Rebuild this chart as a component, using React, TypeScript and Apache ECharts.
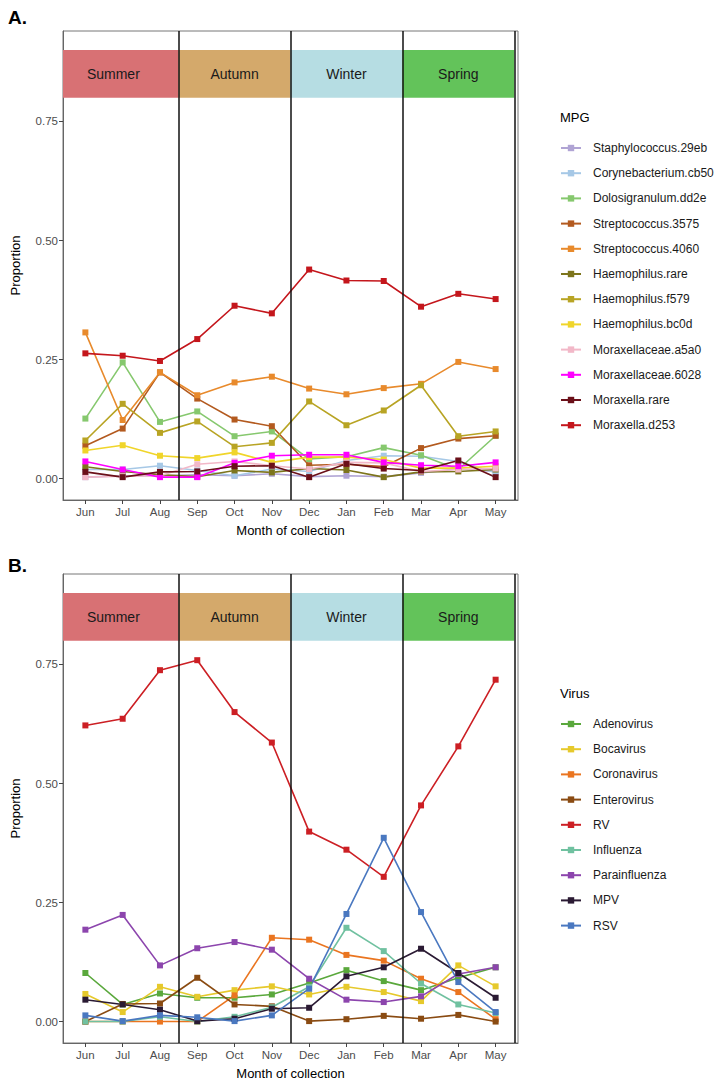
import React, { useEffect, useRef } from "react";
import * as echarts from "echarts";

const months = ["Jun", "Jul", "Aug", "Sep", "Oct", "Nov", "Dec", "Jan", "Feb", "Mar", "Apr", "May"];
const yTicks = [0, 0.25, 0.5, 0.75];
const seasons = ["Summer", "Autumn", "Winter", "Spring"];
const seasonColors = ["#d87174", "#d4a96b", "#b6dde3", "#63c35a"];
const seasonStart = [-0.6, 2.5, 5.5, 8.5];
const seasonEnd = [2.5, 5.5, 8.5, 11.5];
const seasonLabelX = [0.75, 4, 7, 10];
const seasonBandLow = 0.8;
const seasonBandHigh = 0.9;
const seasonBoundaries = [2.5, 5.5, 8.5, 11.5];

// Panel A: MPG
const mpgNames = [
  "Staphylococcus.29eb",
  "Corynebacterium.cb50",
  "Dolosigranulum.dd2e",
  "Streptococcus.3575",
  "Streptococcus.4060",
  "Haemophilus.rare",
  "Haemophilus.f579",
  "Haemophilus.bc0d",
  "Moraxellaceae.a5a0",
  "Moraxellaceae.6028",
  "Moraxella.rare",
  "Moraxella.d253",
];
const mpgColors = [
  "#b0a4d4", "#a6c8e6", "#86c86e", "#b35a1f", "#e88a2c", "#7d751c",
  "#b8a424", "#f0d52a", "#f2b8c8", "#ff00ff", "#6b1019", "#c4161c",
];
const staphylococcus29eb = [0.003, 0.006, 0.006, 0.008, 0.006, 0.01, 0.004, 0.006, 0.004, 0.012, 0.02, 0.015];
const corynebacteriumCb50 = [0.019, 0.019, 0.027, 0.017, 0.006, 0.02, 0.015, 0.038, 0.048, 0.047, 0.036, 0.012];
const dolosigranulumDd2e = [0.126, 0.244, 0.119, 0.141, 0.089, 0.099, 0.041, 0.046, 0.065, 0.049, 0.019, 0.09];
const streptococcus3575 = [0.069, 0.105, 0.223, 0.168, 0.124, 0.11, 0.028, 0.03, 0.025, 0.064, 0.084, 0.09];
const streptococcus4060 = [0.307, 0.123, 0.223, 0.175, 0.202, 0.214, 0.189, 0.177, 0.19, 0.199, 0.245, 0.23];
const haemophilusRare = [0.025, 0.015, 0.008, 0.004, 0.017, 0.013, 0.021, 0.018, 0.003, 0.014, 0.015, 0.019];
const haemophilusF579 = [0.08, 0.157, 0.096, 0.12, 0.067, 0.075, 0.162, 0.112, 0.143, 0.196, 0.089, 0.099];
const haemophilusBc0d = [0.059, 0.07, 0.048, 0.043, 0.055, 0.034, 0.045, 0.045, 0.04, 0.022, 0.022, 0.026];
const moraxellaceaeA5a0 = [0.003, 0.005, 0.006, 0.03, 0.036, 0.027, 0.02, 0.034, 0.033, 0.015, 0.019, 0.021];
const moraxellaceae6028 = [0.036, 0.019, 0.003, 0.003, 0.033, 0.048, 0.05, 0.05, 0.034, 0.028, 0.026, 0.034];
const moraxellaRare = [0.014, 0.003, 0.014, 0.015, 0.026, 0.027, 0.003, 0.031, 0.021, 0.017, 0.038, 0.003];
const moraxellaD253 = [0.263, 0.258, 0.247, 0.293, 0.363, 0.347, 0.439, 0.416, 0.415, 0.361, 0.388, 0.377];
const mpgValues = [
  staphylococcus29eb, corynebacteriumCb50, dolosigranulumDd2e, streptococcus3575,
  streptococcus4060, haemophilusRare, haemophilusF579, haemophilusBc0d,
  moraxellaceaeA5a0, moraxellaceae6028, moraxellaRare, moraxellaD253,
];

// Panel B: Virus
const virusNames = ["Adenovirus", "Bocavirus", "Coronavirus", "Enterovirus", "RV", "Influenza", "Parainfluenza", "MPV", "RSV"];
const virusColors = ["#5aa83c", "#e6c92c", "#ea7520", "#8a4b12", "#cc1f24", "#70c1a0", "#8c45ad", "#2a1a33", "#4a78c0"];
const adenovirus = [0.102, 0.036, 0.059, 0.05, 0.05, 0.057, 0.081, 0.108, 0.085, 0.066, 0.092, 0.114];
const bocavirus = [0.058, 0.02, 0.073, 0.052, 0.066, 0.074, 0.057, 0.073, 0.062, 0.043, 0.118, 0.074];
const coronavirus = [0.0, 0.0, 0.0, 0.0, 0.055, 0.176, 0.172, 0.14, 0.128, 0.09, 0.062, 0.005];
const enterovirus = [0.0, 0.037, 0.038, 0.092, 0.036, 0.032, 0.001, 0.005, 0.012, 0.006, 0.014, 0.0];
const rv = [0.622, 0.636, 0.738, 0.759, 0.65, 0.586, 0.399, 0.361, 0.304, 0.454, 0.578, 0.718];
const influenza = [0.0, 0.0, 0.01, 0.0, 0.01, 0.03, 0.073, 0.197, 0.148, 0.08, 0.036, 0.018];
const parainfluenza = [0.193, 0.224, 0.118, 0.154, 0.167, 0.151, 0.09, 0.046, 0.041, 0.053, 0.1, 0.114];
const mpv = [0.046, 0.036, 0.025, 0.001, 0.006, 0.027, 0.029, 0.095, 0.114, 0.153, 0.102, 0.05];
const rsv = [0.013, 0.001, 0.013, 0.009, 0.001, 0.013, 0.069, 0.226, 0.386, 0.23, 0.083, 0.02];
const virusValues = [adenovirus, bocavirus, coronavirus, enterovirus, rv, influenza, parainfluenza, mpv, rsv];

const FONT = "'Liberation Sans', Arial, Helvetica, sans-serif";

export default function App() {
  const ref = useRef<HTMLDivElement>(null);

  useEffect(() => {
    document.body.style.margin = "0";
    const chart = echarts.init(ref.current!, null, { renderer: "svg" });

    const gridTops = [31, 574];
    const gridH = 469;

    const xAxes = [0, 1].map((g) => ({
      type: "value",
      gridIndex: g,
      min: -0.6,
      max: 11.6,
      name: "Month of collection",
      nameLocation: "middle",
      nameGap: 24,
      nameTextStyle: { fontFamily: FONT, fontSize: 13, color: "#000" },
      axisLine: { show: true, onZero: false, lineStyle: { color: "#666", width: 1 } },
      axisTick: { show: true, customValues: months.map((_, i) => i), length: 4, lineStyle: { color: "#444" } },
      axisLabel: {
        show: true,
        customValues: months.map((_, i) => i),
        formatter: (v: number) => months[Math.round(v)] ?? "",
        fontFamily: FONT,
        fontSize: 11.5,
        color: "#4d4d4d",
        margin: 6,
      },
      splitLine: { show: false },
    }));

    const yAxes = [0, 1].map((g) => ({
      type: "value",
      gridIndex: g,
      min: -0.045,
      max: 0.94,
      name: "Proportion",
      nameLocation: "middle",
      nameGap: 41,
      nameTextStyle: { fontFamily: FONT, fontSize: 13, color: "#000" },
      axisLine: { show: true, onZero: false, lineStyle: { color: "#666", width: 1 } },
      axisTick: { show: true, customValues: yTicks, length: 4, lineStyle: { color: "#444" } },
      axisLabel: {
        show: true,
        customValues: yTicks,
        formatter: (v: number) => v.toFixed(2),
        fontFamily: FONT,
        fontSize: 11.5,
        color: "#4d4d4d",
        margin: 5,
      },
      splitLine: { show: false },
    }));

    const seasonSeries = [0, 1].map((g) => ({
      type: "custom",
      xAxisIndex: g,
      yAxisIndex: g,
      silent: true,
      clip: false,
      z: 1,
      data: seasons.map((_, i) => [seasonStart[i], seasonEnd[i], seasonLabelX[i]]),
      encode: { x: [0, 1] },
      renderItem: (params: any, api: any) => {
        const i = params.dataIndex;
        const p0 = api.coord([api.value(0), seasonBandHigh]);
        const p1 = api.coord([api.value(1), seasonBandLow]);
        const pc = api.coord([api.value(2), (seasonBandLow + seasonBandHigh) / 2]);
        return {
          type: "group",
          children: [
            {
              type: "rect",
              shape: { x: p0[0], y: p0[1], width: p1[0] - p0[0], height: p1[1] - p0[1] },
              style: { fill: seasonColors[i] },
            },
            {
              type: "text",
              x: pc[0],
              y: pc[1],
              style: {
                text: seasons[i],
                fill: "#1a1a1a",
                font: `14px ${FONT}`,
                align: "center",
                verticalAlign: "middle",
              },
            },
          ],
        };
      },
      markLine: {
        silent: true,
        symbol: "none",
        label: { show: false },
        lineStyle: { color: "#111", width: 1.5, type: "solid" },
        data: seasonBoundaries.map((x) => ({ xAxis: x })),
      },
    }));

    const makeSeries = (names: string[], colors: string[], values: number[][], g: number) =>
      names.map((name, k) => ({
        type: "line",
        name,
        xAxisIndex: g,
        yAxisIndex: g,
        data: values[k].map((v, i) => [i, v]),
        symbol: "rect",
        symbolSize: 6,
        showSymbol: true,
        itemStyle: { color: colors[k] },
        lineStyle: { color: colors[k], width: 1.6 },
        z: 3,
      }));

    const legendBase = {
      orient: "vertical",
      left: 555,
      itemWidth: 20,
      itemHeight: 8,
      itemGap: 11.2,
      textStyle: { fontFamily: FONT, fontSize: 12, color: "#1a1a1a", lineHeight: 14, padding: [0, 0, 0, 7] },
      selectedMode: false,
    };

    chart.setOption({
      animation: false,
      backgroundColor: "#fff",
      title: [
        { text: "A.", left: 3, top: 3, textStyle: { fontFamily: FONT, fontSize: 19, fontWeight: "bold", color: "#000" } },
        { text: "B.", left: 3, top: 551, textStyle: { fontFamily: FONT, fontSize: 19, fontWeight: "bold", color: "#000" } },
        { text: "MPG", left: 555, top: 106, textStyle: { fontFamily: FONT, fontSize: 13, fontWeight: "normal", color: "#000" } },
        { text: "Virus", left: 555, top: 682, textStyle: { fontFamily: FONT, fontSize: 13, fontWeight: "normal", color: "#000" } },
      ],
      legend: [
        { ...legendBase, top: 136, data: mpgNames },
        { ...legendBase, top: 712, data: virusNames },
      ],
      grid: gridTops.map((t) => ({
        left: 63,
        width: 455,
        top: t,
        height: gridH,
        show: true,
        borderColor: "#777",
        borderWidth: 1,
        backgroundColor: "transparent",
        containLabel: false,
      })),
      xAxis: xAxes,
      yAxis: yAxes,
      series: [
        ...seasonSeries,
        ...makeSeries(mpgNames, mpgColors, mpgValues, 0),
        ...makeSeries(virusNames, virusColors, virusValues, 1),
      ],
    });

    return () => chart.dispose();
  }, []);

  return <div ref={ref} style={{ width: 723, height: 1083 }} />;
}
